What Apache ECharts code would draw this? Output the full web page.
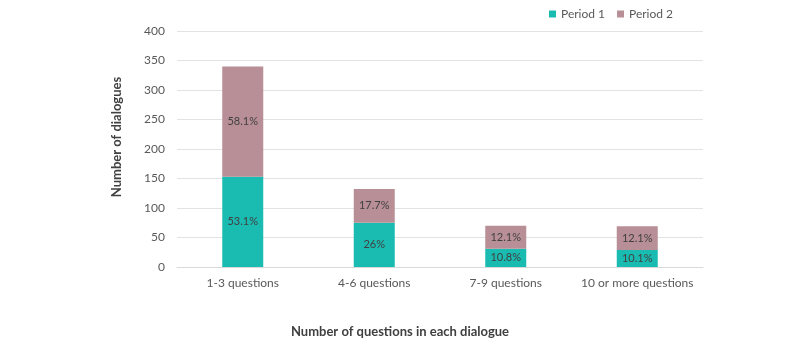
<!DOCTYPE html>
<html>
<head>
<meta charset="utf-8">
<script src="https://cdn.jsdelivr.net/npm/echarts@6/dist/echarts.min.js"></script>
<style>
  html, body { margin: 0; padding: 0; background: #fff; }
  #chart { width: 800px; height: 340px; }
</style>
</head>
<body>
<div id="chart"></div>
<script>
// data
const categories = ['1-3 questions', '4-6 questions', '7-9 questions', '10 or more questions'];
const period1 = [153, 75, 31, 29];
const period2 = [187, 57, 39, 40];
const period1Labels = ['53.1%', '26%', '10.8%', '10.1%'];
const period2Labels = ['58.1%', '17.7%', '12.1%', '12.1%'];

const FONT = 'Lato, "Open Sans", sans-serif';

const chart = echarts.init(document.getElementById('chart'));

function labelFor(texts) {
  return {
    show: true,
    position: 'inside',
    color: '#404040',
    fontSize: 11,
    fontFamily: FONT,
    formatter: p => texts[p.dataIndex],
  };
}

chart.setOption({
  animation: false,
  legend: {
    top: 3,
    left: 544,
    itemWidth: 7,
    itemHeight: 7,
    itemGap: 12,
    icon: 'rect',
    textStyle: { color: '#595959', fontSize: 12, fontFamily: FONT },
    data: ['Period 1', 'Period 2'],
  },
  grid: { left: 177, right: 97, top: 31, bottom: 73, outerBoundsMode: 'none' },
  xAxis: {
    type: 'category',
    data: categories,
    axisLine: { lineStyle: { color: '#d9d9d9' } },
    axisTick: { show: false },
    axisLabel: { color: '#595959', fontSize: 12, fontFamily: FONT, margin: 10, interval: 0 },
    name: 'Number of questions in each dialogue',
    nameLocation: 'middle',
    nameGap: 58,
    nameTextStyle: {
      color: '#404040', fontSize: 13, fontWeight: 'bold', fontFamily: FONT,
      padding: [0, 80, 0, 0],
    },
  },
  yAxis: {
    type: 'value',
    min: 0,
    max: 400,
    interval: 50,
    axisLine: { show: false },
    axisTick: { show: false },
    splitLine: { lineStyle: { color: '#e3e3e3' } },
    axisLabel: { color: '#595959', fontSize: 12, fontFamily: FONT, margin: 12 },
    name: 'Number of dialogues',
    nameLocation: 'middle',
    nameGap: 54,
    nameTextStyle: {
      color: '#404040', fontSize: 13, fontWeight: 'bold', fontFamily: FONT,
      padding: [0, 0, 0, 24],
    },
  },
  series: [
    {
      name: 'Period 1',
      type: 'bar',
      stack: 'total',
      barWidth: 41,
      itemStyle: { color: '#1abcb2' },
      label: labelFor(period1Labels),
      data: period1,
    },
    {
      name: 'Period 2',
      type: 'bar',
      stack: 'total',
      barWidth: 41,
      itemStyle: { color: '#b88f97' },
      label: labelFor(period2Labels),
      data: period2,
    },
  ],
});
</script>
</body>
</html>
